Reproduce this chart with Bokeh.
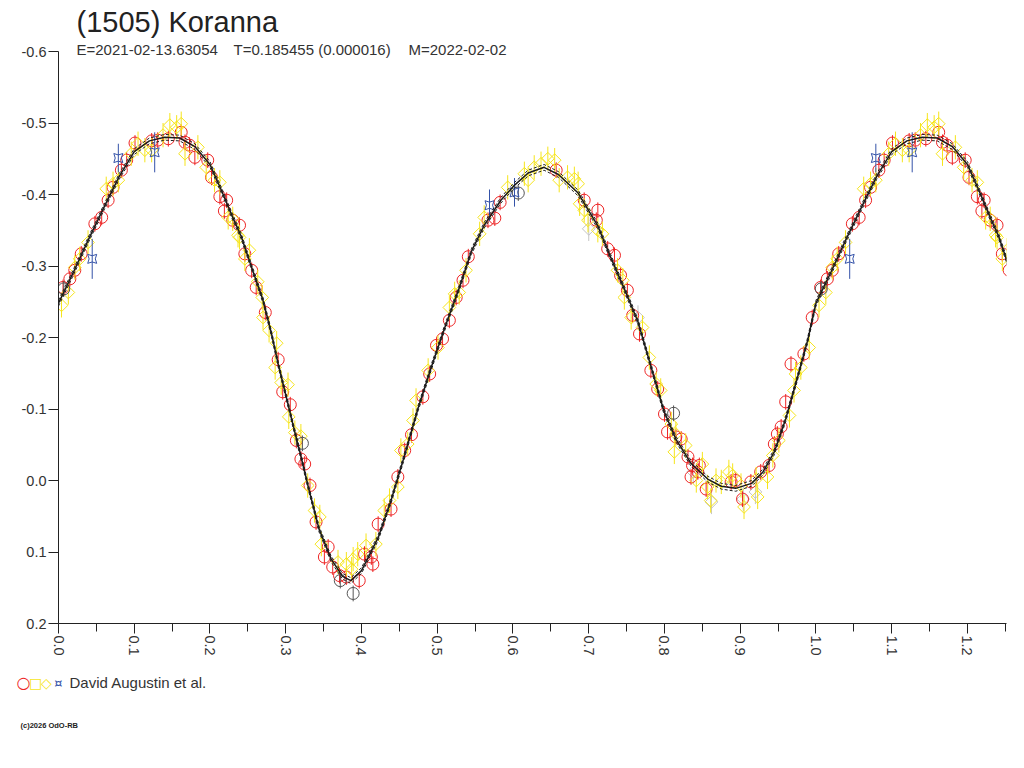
import math
from bokeh.plotting import figure
from bokeh.layouts import column
from bokeh.models import Range1d, Label, FixedTicker
from bokeh.embed import file_html
from bokeh.resources import INLINE

# ---------------- data ----------------
title_text = "(1505) Koranna"
sub_epoch = "E=2021-02-13.63054"
sub_period = "T=0.185455 (0.000016)"
sub_model = "M=2022-02-02"
legend_text = "David Augustin et al."
copyright_text = "(c)2026 OdO-RB"

x_ticks = [0.0, 0.1, 0.2, 0.3, 0.4, 0.5, 0.6, 0.7, 0.8, 0.9, 1.0, 1.1, 1.2]
x_tick_labels = ["0.0", "0.1", "0.2", "0.3", "0.4", "0.5", "0.6", "0.7", "0.8", "0.9", "1.0", "1.1", "1.2"]
x_minor = [0.05, 0.15, 0.25, 0.35, 0.45, 0.55, 0.65, 0.75, 0.85, 0.95, 1.05, 1.15, 1.25]
y_ticks = [-0.6, -0.5, -0.4, -0.3, -0.2, -0.1, 0.0, 0.1, 0.2]
y_tick_labels = ["-0.6", "-0.5", "-0.4", "-0.3", "-0.2", "-0.1", "0.0", "0.1", "0.2"]

# fitted light curve (phase, relative magnitude)
fit_phase = [0.000, 0.020, 0.040, 0.060, 0.080, 0.100, 0.120, 0.140, 0.160, 0.180,
             0.200, 0.215, 0.230, 0.241, 0.255, 0.270, 0.281, 0.290, 0.300, 0.310,
             0.320, 0.330, 0.344, 0.360, 0.375, 0.386, 0.400, 0.422, 0.439, 0.456,
             0.475, 0.492, 0.510, 0.528, 0.545, 0.562, 0.584, 0.601, 0.620, 0.641,
             0.660, 0.686, 0.712, 0.729, 0.747, 0.765, 0.782, 0.799, 0.815, 0.835,
             0.857, 0.875, 0.894, 0.915, 0.930, 0.945, 0.960, 0.975, 0.989, 1.000]
fit_mag = [-0.248, -0.292, -0.338, -0.382, -0.425, -0.460, -0.475, -0.480, -0.479, -0.467,
           -0.442, -0.406, -0.368, -0.342, -0.298, -0.252, -0.206, -0.163, -0.120, -0.076,
           -0.034, 0.010, 0.068, 0.110, 0.134, 0.140, 0.126, 0.080, 0.028, -0.032,
           -0.102, -0.158, -0.214, -0.266, -0.320, -0.357, -0.392, -0.412, -0.430, -0.438,
           -0.428, -0.402, -0.356, -0.312, -0.268, -0.222, -0.160, -0.098, -0.058, -0.024,
           -0.002, 0.008, 0.011, 0.004, -0.012, -0.040, -0.086, -0.142, -0.196, -0.248]
fit_band = 0.004

# observer set 1 (red circles)
red_phase = [0.006, 0.015, 0.0215, 0.030, 0.048, 0.057, 0.0655, 0.072, 0.083, 0.090,
             0.101, 0.123, 0.131, 0.145, 0.162, 0.167, 0.173, 0.180, 0.197, 0.202,
             0.213, 0.222, 0.219, 0.230, 0.239, 0.246, 0.255, 0.261, 0.273, 0.290,
             0.296, 0.306, 0.314, 0.320, 0.325, 0.332, 0.340, 0.351, 0.356, 0.362,
             0.371, 0.380, 0.397, 0.404, 0.413, 0.415, 0.422, 0.439, 0.448, 0.457,
             0.466, 0.481, 0.490, 0.499, 0.507, 0.516, 0.525, 0.534, 0.541, 0.567,
             0.576, 0.583, 0.657, 0.694, 0.712, 0.710, 0.725, 0.734, 0.742, 0.751,
             0.758, 0.767, 0.782, 0.791, 0.800, 0.804, 0.815, 0.822, 0.831, 0.837,
             0.846, 0.835, 0.844, 0.855, 0.888, 0.894, 0.914, 0.903, 0.927, 0.938,
             0.945, 0.949, 0.954, 0.960, 0.967, 0.984, 0.995]
red_mag = [-0.270, -0.282, -0.294, -0.317, -0.359, -0.368, -0.392, -0.410, -0.434, -0.448,
           -0.472, -0.475, -0.476, -0.478, -0.487, -0.473, -0.469, -0.452, -0.448, -0.424,
           -0.397, -0.392, -0.377, -0.364, -0.357, -0.317, -0.294, -0.270, -0.235, -0.169,
           -0.124, -0.106, -0.056, -0.030, -0.023, 0.007, 0.058, 0.107, 0.093, 0.121,
           0.133, 0.135, 0.140, 0.103, 0.107, 0.117, 0.061, 0.040, -0.005, -0.042,
           -0.064, -0.117, -0.149, -0.189, -0.198, -0.224, -0.256, -0.280, -0.313, -0.364,
           -0.367, -0.389, -0.434, -0.392, -0.378, -0.364, -0.324, -0.315, -0.287, -0.266,
           -0.231, -0.205, -0.154, -0.128, -0.093, -0.068, -0.061, -0.058, -0.033, -0.021,
           -0.021, -0.005, -0.012, 0.012, 0.002, 0.000, 0.002, 0.026, -0.012, -0.021,
           -0.051, -0.065, -0.075, -0.110, -0.163, -0.177, -0.228]
red_err = 0.011

# observer set 2 (yellow diamonds)
yel_phase = [0.004, 0.013, 0.0215, 0.028, 0.039, 0.063, 0.072, 0.079, 0.096, 0.105,
             0.114, 0.123, 0.138, 0.147, 0.156, 0.162, 0.167, 0.184, 0.195, 0.206,
             0.213, 0.224, 0.230, 0.237, 0.239, 0.252, 0.246, 0.263, 0.269, 0.270,
             0.278, 0.286, 0.288, 0.294, 0.303, 0.304, 0.312, 0.320, 0.329, 0.338,
             0.345, 0.347, 0.369, 0.380, 0.387, 0.389, 0.395, 0.406, 0.419, 0.430,
             0.437, 0.448, 0.452, 0.461, 0.468, 0.472, 0.488, 0.501, 0.516, 0.523,
             0.529, 0.538, 0.556, 0.562, 0.593, 0.615, 0.620, 0.628, 0.637, 0.646,
             0.655, 0.661, 0.672, 0.681, 0.686, 0.688, 0.694, 0.699, 0.712, 0.718,
             0.738, 0.745, 0.747, 0.756, 0.771, 0.780, 0.789, 0.795, 0.809, 0.813,
             0.815, 0.828, 0.850, 0.842, 0.857, 0.861, 0.868, 0.875, 0.885, 0.890,
             0.901, 0.905, 0.921, 0.923, 0.936, 0.943, 0.951, 0.965, 0.971, 0.973,
             0.980, 0.991]
yel_mag = [-0.245, -0.263, -0.298, -0.310, -0.333, -0.408, -0.415, -0.420, -0.457, -0.471,
           -0.462, -0.462, -0.483, -0.497, -0.494, -0.499, -0.457, -0.466, -0.438, -0.420,
           -0.417, -0.368, -0.366, -0.343, -0.340, -0.322, -0.310, -0.278, -0.256, -0.228,
           -0.210, -0.158, -0.192, -0.137, -0.134, -0.089, -0.067, -0.062, 0.007, 0.042,
           0.051, 0.089, 0.114, 0.117, 0.124, 0.110, 0.103, 0.091, 0.089, 0.042,
           0.028, 0.009, -0.042, -0.051, -0.084, -0.112, -0.154, -0.186, -0.242, -0.261,
           -0.263, -0.294, -0.345, -0.368, -0.410, -0.429, -0.420, -0.438, -0.443, -0.450,
           -0.448, -0.420, -0.424, -0.422, -0.415, -0.387, -0.378, -0.364, -0.350, -0.345,
           -0.294, -0.280, -0.256, -0.228, -0.214, -0.172, -0.135, -0.126, -0.079, -0.040,
           -0.065, -0.049, -0.023, 0.000, 0.009, 0.028, 0.000, 0.002, -0.012, -0.007,
           0.007, 0.037, -0.002, 0.023, -0.005, -0.035, -0.056, -0.091, -0.126, -0.149,
           -0.158, -0.186]
yel_err = 0.017

# observer set 3 (blue)
blue_phase = [0.0445, 0.079, 0.127, 0.569, 0.602]
blue_mag = [-0.310, -0.451, -0.459, -0.385, -0.403]
blue_err = [0.028, 0.020, 0.028, 0.022, 0.020]

# other sessions (grey)
dgrey_phase = [0.007, 0.322, 0.372, 0.389, 0.607, 0.812]
dgrey_mag = [-0.268, -0.052, 0.140, 0.158, -0.402, -0.094]
lgrey_phase = [0.700, 0.765, 0.838, 0.862, 0.904, 0.920]
lgrey_mag = [-0.352, -0.228, -0.012, 0.030, 0.026, 0.016]

RED = "#ee2525"
YEL = "#f6e51a"
BLUE = "#3452a8"
DGREY = "#555555"
LGREY = "#c4c4c4"
FONT = "Liberation Sans"
XMAX = 1.2515
W = 1016
Y_TOP = -0.6 - 11.0 / 715.0   # frame extends 11px above the -0.6 tick so the subtitle fits


def fold(ph, mg):
    xs = list(ph) + [v + 1.0 for v in ph if v + 1.0 <= XMAX + 0.01]
    ys = list(mg) + [m for v, m in zip(ph, mg) if v + 1.0 <= XMAX + 0.01]
    return xs, ys


def fold_err(ph, err):
    return list(err) + [e for v, e in zip(ph, err) if v + 1.0 <= XMAX + 0.01]


def blank(h):
    f = figure(width=W, height=h, output_backend="svg", toolbar_location=None,
               title_location=None,
               x_range=Range1d(0, W), y_range=Range1d(h, 0),
               x_axis_type=None, y_axis_type=None,
               min_border=0, min_border_left=0, min_border_right=0,
               min_border_top=0, min_border_bottom=0)
    f.outline_line_color = None
    f.xgrid.visible = False
    f.ygrid.visible = False
    return f


# ---- header (y measured downward from the top of the page) ----
top = blank(40)
top.add_layout(Label(x=76, y=21, text=title_text, text_font=FONT, text_font_size="29px",
                     text_color="#222222", text_baseline="middle"))

# ---- main plot ----
p = figure(width=W, height=628, output_backend="svg", toolbar_location=None,
           title_location=None,
           x_range=Range1d(0, XMAX), y_range=Range1d(0.2, Y_TOP),
           min_border_left=58, min_border_right=10, min_border_top=0, min_border_bottom=45)
p.outline_line_color = None
p.xgrid.visible = False
p.ygrid.visible = False


def draw_series(ph, mg, err, color, marker, size, angle=0.0, width=1.0):
    xs, ys = fold(ph, mg)
    if isinstance(err, list):
        es = fold_err(ph, err)
    else:
        es = [err] * len(xs)
    p.segment(x0=xs, y0=[y - e for y, e in zip(ys, es)], x1=xs, y1=[y + e for y, e in zip(ys, es)],
              line_color=color, line_width=width)
    p.scatter(xs, ys, marker=marker, size=size, angle=angle, fill_color=None,
              line_color=color, line_width=width)


draw_series(lgrey_phase, lgrey_mag, yel_err, LGREY, "square", 9, math.pi / 4)
draw_series(red_phase, red_mag, red_err, RED, "circle", 12)
draw_series(yel_phase, yel_mag, yel_err, YEL, "square", 9, math.pi / 4)
draw_series(dgrey_phase, dgrey_mag, red_err, DGREY, "circle", 12)
draw_series(blue_phase, blue_mag, blue_err, BLUE, "square_pin", 9)

# fit curve with uncertainty band
fx, fy = fold(fit_phase, fit_mag)
p.line(fx, [v - fit_band for v in fy], line_color="#222222", line_width=1, line_dash="3 2")
p.line(fx, [v + fit_band for v in fy], line_color="#222222", line_width=1, line_dash="3 2")
p.line(fx, fy, line_color="#1a1a1a", line_width=1.5)

for ax in (p.xaxis[0], p.yaxis[0]):
    ax.axis_line_color = "#222222"
    ax.major_tick_line_color = "#222222"
    ax.minor_tick_line_color = "#222222"
    ax.major_tick_in = 0
    ax.major_tick_out = 10
    ax.minor_tick_in = 0
    ax.minor_tick_out = 8
    ax.major_label_text_font = FONT
    ax.major_label_text_font_size = "14.5px"
    ax.major_label_text_color = "#333333"

p.xaxis.ticker = FixedTicker(ticks=x_ticks, minor_ticks=x_minor)
p.xaxis.major_label_overrides = {t: l for t, l in zip(x_ticks, x_tick_labels)}
p.xaxis.major_label_orientation = -math.pi / 2
p.xaxis.major_label_standoff = 2
p.yaxis.ticker = FixedTicker(ticks=y_ticks)
p.yaxis.major_label_overrides = {t: l for t, l in zip(y_ticks, y_tick_labels)}
p.yaxis.minor_tick_line_color = None
p.yaxis.major_label_standoff = 2
p.yaxis.bounds = (-0.6, 0.2)

# subtitle just at the top of the axis (screen units from frame lower-left)
for xo, t in ((18, sub_epoch), (175, sub_period), (350, sub_model)):
    p.add_layout(Label(x=xo, y=574, x_units="screen", y_units="screen", text=t,
                       text_font=FONT, text_font_size="15px", text_color="#333333",
                       text_baseline="middle"))

# ---- footer: legend and copyright (y measured downward from footer top) ----
bot = blank(80)
for xo, sym, col, fs in ((23, "\u25cb", RED, "16px"), (35, "\u25a1", YEL, "14px"),
                         (46, "\u25c7", YEL, "14px"), (58, "\u00a4", BLUE, "13px")):
    bot.add_layout(Label(x=xo, y=14, text=sym, text_font="DejaVu Sans", text_font_size=fs,
                         text_color=col, text_align="center", text_baseline="middle"))
bot.add_layout(Label(x=69, y=14, text=legend_text, text_font=FONT, text_font_size="15px",
                     text_color="#333333", text_baseline="middle"))
bot.add_layout(Label(x=20, y=57, text=copyright_text, text_font=FONT, text_font_size="7.5px",
                     text_font_style="bold", text_color="#222222", text_baseline="middle"))

layout = column(column(top), column(p), column(bot), spacing=0)
open("out.html", "w").write(file_html(layout, INLINE))
